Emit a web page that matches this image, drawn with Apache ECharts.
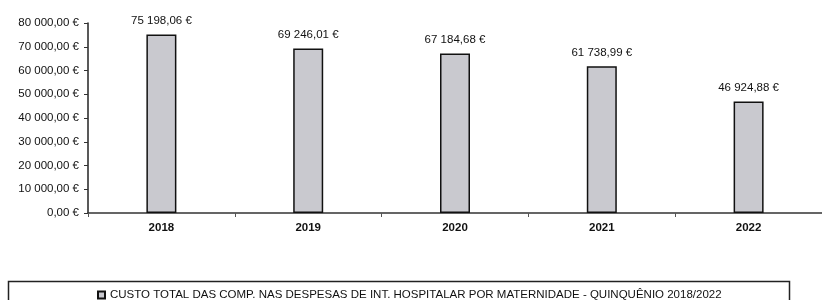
<!DOCTYPE html>
<html>
<head>
<meta charset="utf-8">
<script src="https://cdn.jsdelivr.net/npm/echarts@6/dist/echarts.min.js"></script>
<style>
  html, body { margin: 0; padding: 0; background: #fff; }
  #chart { width: 822px; height: 300px; }
</style>
</head>
<body>
<div id="chart"></div>
<script>
  // data
  const years = ['2018', '2019', '2020', '2021', '2022'];
  const custos = [75198.06, 69246.01, 67184.68, 61738.99, 46924.88];
  const serieNome = 'CUSTO TOTAL DAS COMP. NAS DESPESAS DE INT. HOSPITALAR POR MATERNIDADE - QUINQUÊNIO 2018/2022';

  const font = '"Liberation Sans Narrow", "Liberation Sans", Arial, sans-serif';

  // 75198.06 -> "75 198,06 €"
  function euro(v) {
    let parts = v.toFixed(2).split('.');
    let inteiro = parts[0].replace(/\B(?=(\d{3})+(?!\d))/g, ' ');
    return inteiro + ',' + parts[1] + ' €';
  }

  let chart = echarts.init(document.getElementById('chart'));

  chart.setOption({
    animation: false,
    backgroundColor: '#fff',
    textStyle: { fontFamily: font },
    grid: { left: 88, right: -8, top: 23, bottom: 87, containLabel: false },
    legend: {
      data: [serieNome],
      left: 97,
      top: 289,
      padding: 0,
      icon: 'rect',
      itemWidth: 7,
      itemHeight: 7,
      itemGap: 6,
      textStyle: { fontFamily: font, fontSize: 11.5, color: '#111' }
    },
    graphic: [
      {
        // legend frame, runs off the bottom of the picture
        type: 'rect',
        left: 6,
        top: 279,
        shape: { width: 781, height: 40 },
        style: { fill: 'none', stroke: '#222', lineWidth: 1.5 }
      }
    ],
    xAxis: {
      type: 'category',
      data: years,
      axisLine: { lineStyle: { color: '#333', width: 1.5 } },
      axisTick: { show: true, length: 4, lineStyle: { color: '#555' } },
      axisLabel: { fontFamily: font, fontSize: 11.5, fontWeight: 'bold', color: '#111', margin: 9 }
    },
    yAxis: {
      type: 'value',
      min: 0,
      max: 80000,
      interval: 10000,
      splitLine: { show: false },
      axisLine: { show: true, lineStyle: { color: '#222', width: 1.5 } },
      axisTick: { show: true, length: 4, lineStyle: { color: '#333' } },
      axisLabel: {
        fontFamily: font, fontSize: 11.5, color: '#111', margin: 9,
        formatter: function (v) { return euro(v); }
      }
    },
    series: [
      {
        name: serieNome,
        type: 'bar',
        data: custos,
        barWidth: 30,
        itemStyle: { color: '#c9c9cf', borderColor: '#111', borderWidth: 1.5 },
        label: {
          show: true,
          position: 'top',
          distance: 8,
          fontFamily: font,
          fontSize: 11.5,
          color: '#111',
          formatter: function (p) { return euro(p.value); }
        }
      }
    ]
  });
</script>
</body>
</html>
